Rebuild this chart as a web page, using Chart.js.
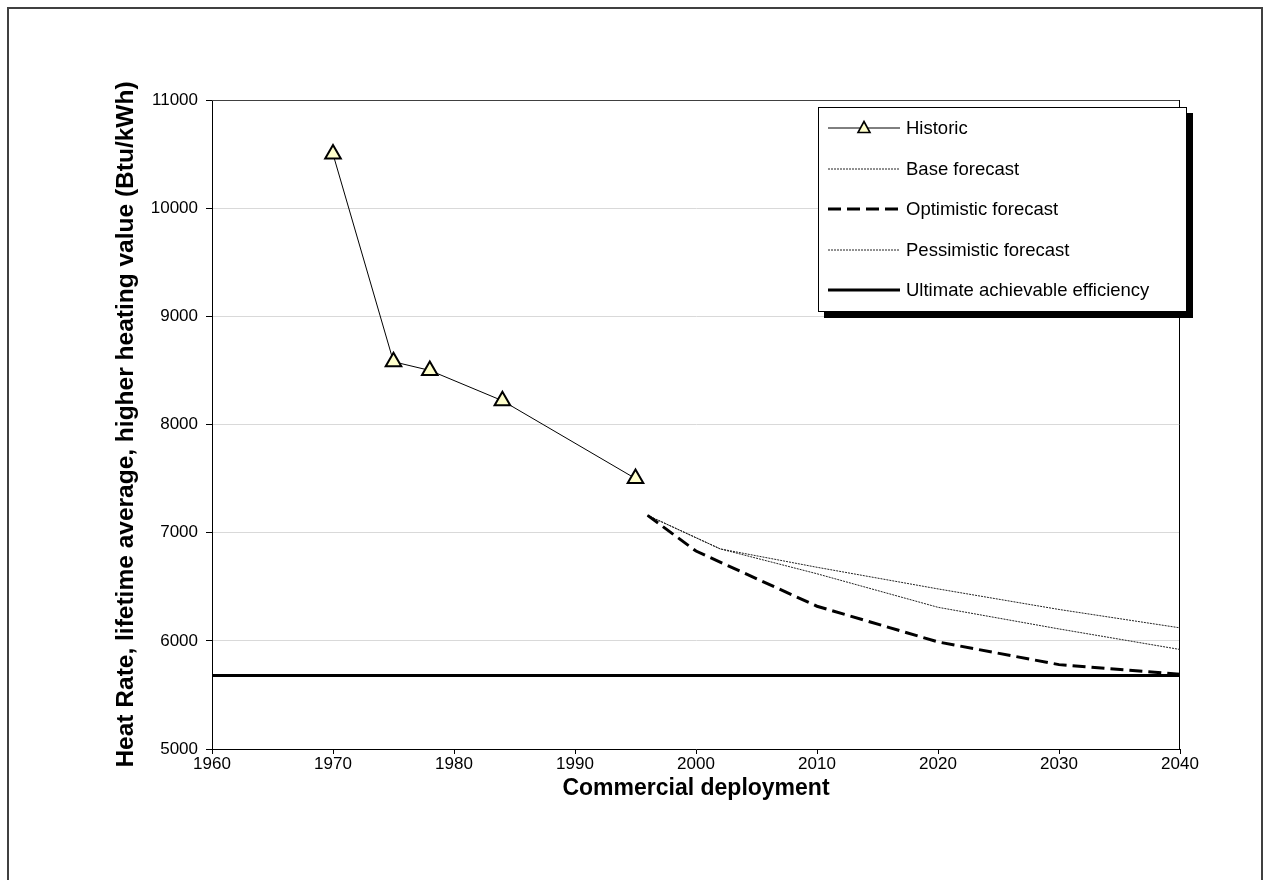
<!DOCTYPE html>
<html>
<head>
<meta charset="utf-8">
<title>Heat rate vs commercial deployment</title>
<script src="https://cdn.jsdelivr.net/npm/chart.js@4.4.0/dist/chart.umd.min.js"></script>
<style>
  html, body { margin: 0; padding: 0; background: #fff; }
  #page { position: relative; width: 1270px; height: 880px; overflow: hidden; }
  #frame { position: absolute; left: 7px; top: 7px; width: 1256px; height: 900px;
           border: 2px solid #404040; box-sizing: border-box; }
  #chart { position: absolute; left: 0; top: 0; }
  #legend { position: absolute; left: 818px; top: 107px; width: 369px; height: 205px;
            border: 1px solid #000; background: #fff; box-shadow: 6px 6px 0 #000;
            box-sizing: border-box; font-family: "Liberation Sans", Arial, sans-serif;
            font-size: 18.5px; color: #000; }
  #legend .item { height: 40.5px; display: flex; align-items: center; }
  #legend svg { margin-left: 9px; margin-right: 6px; flex: none; }
</style>
</head>
<body>
<div id="page">
  <div id="frame"></div>
  <canvas id="chart" width="1270" height="880"></canvas>
  <div id="legend"></div>
</div>
<script>
// values
const historicYears = [1970, 1975, 1978, 1984, 1995];
const historicRate = [10500, 8580, 8500, 8220, 7500];

const baseYears = [1996, 2002, 2010, 2020, 2030, 2040];
const baseRate = [7160, 6850, 6620, 6310, 6110, 5920];

const optimisticYears = [1996, 2000, 2010, 2020, 2030, 2040];
const optimisticRate = [7160, 6830, 6320, 5990, 5780, 5690];

const pessimisticYears = [1996, 2002, 2010, 2020, 2030, 2040];
const pessimisticRate = [7160, 6850, 6680, 6480, 6290, 6120];

const ultimateYears = [1960, 2040];
const ultimateRate = [5680, 5680];

const xTickValues = [1960, 1970, 1980, 1990, 2000, 2010, 2020, 2030, 2040];
const yTickValues = [5000, 6000, 7000, 8000, 9000, 10000, 11000];

const FONT = '"Liberation Sans", Arial, sans-serif';

function toPoints(xs, ys) {
    return xs.map((x, i) => ({ x: x, y: ys[i] }));
}

// legend drawn as html from the datasets (box with a hard shadow like the original)
const htmlLegend = {
    id: 'htmlLegend',
    afterUpdate(chart) {
        const box = document.getElementById('legend');
        box.innerHTML = '';
        chart.data.datasets.forEach(ds => {
            const row = document.createElement('div');
            row.className = 'item';
            const dash = ds.borderDash && ds.borderDash.length ? ds.borderDash.join(' ') : 'none';
            let svg = '<svg width="72" height="20">' +
                '<line x1="0" y1="10" x2="72" y2="10" stroke="' + ds.borderColor + '" stroke-width="' +
                ds.borderWidth + '" stroke-dasharray="' + dash + '"/>';
            if (ds.pointRadius > 0) {
                svg += '<polygon points="36,3.5 42,14.5 30,14.5" fill="' + ds.pointBackgroundColor +
                    '" stroke="#000" stroke-width="1.6"/>';
            }
            svg += '</svg>';
            row.innerHTML = svg + '<span>' + ds.label + '</span>';
            box.appendChild(row);
        });
    }
};

// top and right edges of the plot area
const plotFrame = {
    id: 'plotFrame',
    beforeDatasetsDraw(chart) {
        const { ctx, chartArea: a } = chart;
        ctx.save();
        ctx.lineWidth = 1;
        ctx.strokeStyle = '#404040';
        ctx.beginPath();
        ctx.moveTo(a.left, a.top + 0.5);
        ctx.lineTo(a.right, a.top + 0.5);
        ctx.stroke();
        ctx.strokeStyle = '#000';
        ctx.beginPath();
        ctx.moveTo(a.right - 0.5, a.top);
        ctx.lineTo(a.right - 0.5, a.bottom);
        ctx.stroke();
        ctx.restore();
    }
};

const ctx = document.getElementById('chart').getContext('2d');
new Chart(ctx, {
    type: 'scatter',
    data: {
        datasets: [{
            label: 'Historic',
            data: toPoints(historicYears, historicRate),
            showLine: true,
            borderColor: '#000',
            borderWidth: 1,
            pointStyle: 'triangle',
            pointRadius: 9,
            pointBackgroundColor: '#FFFFCC',
            pointBorderColor: '#000',
            pointBorderWidth: 2,
            order: 1
        }, {
            label: 'Base forecast',
            data: toPoints(baseYears, baseRate),
            showLine: true,
            borderColor: '#222',
            borderWidth: 1,
            borderDash: [2, 1],
            pointRadius: 0,
            order: 3
        }, {
            label: 'Optimistic forecast',
            data: toPoints(optimisticYears, optimisticRate),
            showLine: true,
            borderColor: '#000',
            borderWidth: 3,
            borderDash: [13, 6],
            pointRadius: 0,
            order: 2
        }, {
            label: 'Pessimistic forecast',
            data: toPoints(pessimisticYears, pessimisticRate),
            showLine: true,
            borderColor: '#222',
            borderWidth: 1,
            borderDash: [2, 1],
            pointRadius: 0,
            order: 4
        }, {
            label: 'Ultimate achievable efficiency',
            data: toPoints(ultimateYears, ultimateRate),
            showLine: true,
            borderColor: '#000',
            borderWidth: 3,
            pointRadius: 0,
            order: 5
        }]
    },
    options: {
        responsive: false,
        animation: false,
        devicePixelRatio: 1,
        layout: { padding: { top: 100, right: 90, bottom: 0, left: 0 } },
        plugins: {
            legend: { display: false },
            tooltip: { enabled: false }
        },
        scales: {
            x: {
                type: 'linear',
                min: 1960,
                max: 2040,
                afterBuildTicks: axis => { axis.ticks = xTickValues.map(v => ({ value: v })); },
                afterFit: axis => { axis.height = 131; },
                ticks: {
                    color: '#000',
                    font: { family: FONT, size: 17 },
                    padding: 0,
                    maxRotation: 0,
                    callback: v => String(v)
                },
                grid: { drawOnChartArea: false, tickLength: 5, tickColor: '#000' },
                border: { color: '#000', width: 1 },
                title: {
                    display: true,
                    text: 'Commercial deployment',
                    color: '#000',
                    font: { family: FONT, size: 23, weight: 'bold' },
                    padding: { top: 0, bottom: 78 }
                }
            },
            y: {
                min: 5000,
                max: 11000,
                afterBuildTicks: axis => { axis.ticks = yTickValues.map(v => ({ value: v })); },
                afterFit: axis => { axis.width = 212; },
                ticks: {
                    color: '#000',
                    font: { family: FONT, size: 17 },
                    padding: 8,
                    callback: v => String(v)
                },
                grid: { color: '#d9d9d9', tickLength: 6, tickColor: '#000' },
                border: { color: '#000', width: 1 },
                title: {
                    display: true,
                    text: 'Heat Rate, lifetime average, higher heating value (Btu/kWh)',
                    color: '#000',
                    font: { family: FONT, size: 24.5, weight: 'bold' },
                    padding: { top: 112, bottom: 0 }
                }
            }
        }
    },
    plugins: [htmlLegend, plotFrame]
});
</script>
</body>
</html>
